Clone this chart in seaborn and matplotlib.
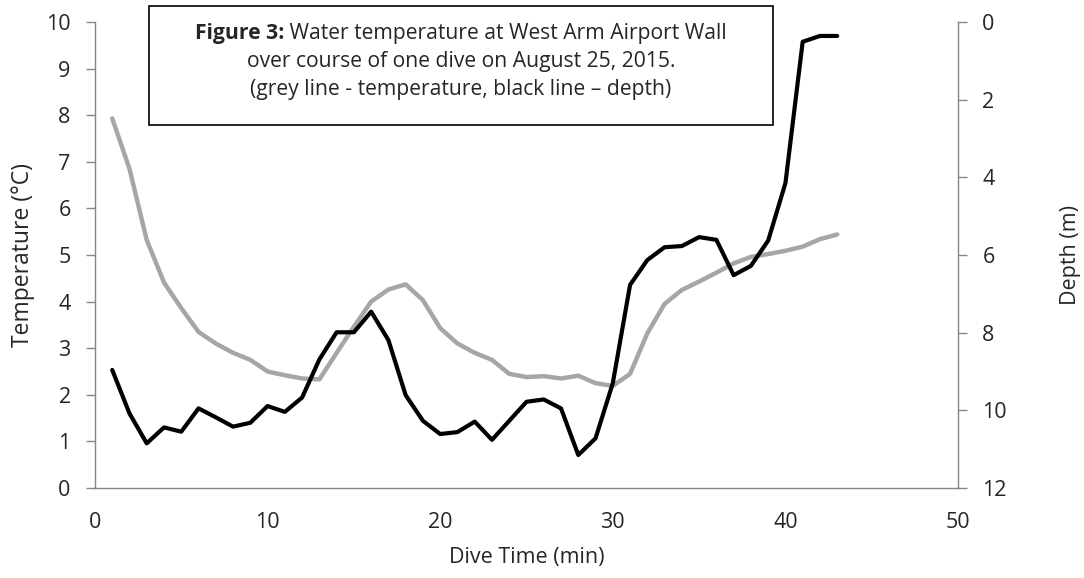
import numpy as np
import pandas as pd
import matplotlib
matplotlib.use("Agg")
import matplotlib.pyplot as plt
import seaborn as sns

# dive time (min), one reading per minute
dive_time = list(range(1, 44))

temperature = [7.93, 6.85, 5.32, 4.41, 3.86, 3.35, 3.10, 2.90, 2.75, 2.50,
               2.42, 2.35, 2.33, 2.90, 3.46, 4.00, 4.26, 4.37, 4.03, 3.43,
               3.10, 2.90, 2.75, 2.45, 2.38, 2.40, 2.35, 2.41, 2.25, 2.19,
               2.45, 3.32, 3.95, 4.25, 4.43, 4.62, 4.82, 4.96, 5.02, 5.09,
               5.18, 5.34, 5.44]

depth = [8.96, 10.08, 10.85, 10.44, 10.55, 9.95, 10.18, 10.42, 10.32, 9.89,
         10.04, 9.67, 8.69, 7.99, 7.99, 7.46, 8.19, 9.61, 10.27, 10.61,
         10.56, 10.29, 10.76, 10.27, 9.78, 9.72, 9.95, 11.15, 10.72, 9.30,
         6.77, 6.13, 5.80, 5.77, 5.54, 5.61, 6.52, 6.28, 5.63, 4.15,
         0.51, 0.36, 0.36]

df = pd.DataFrame({"time": dive_time, "temp": temperature, "depth": depth})

sns.set_style("white")
plt.rcParams["font.family"] = ["Open Sans", "DejaVu Sans"]

axis_grey = "#868686"
fs = 15.5
W, H = 1084, 578

fig = plt.figure(figsize=(10.84, 5.78), dpi=100)
ax = fig.add_axes([0.0876, 0.1557, 0.7962, 0.8063])
ax2 = ax.twinx()

sns.lineplot(data=df, x="time", y="temp", ax=ax, color="#a6a6a6", lw=3.2)
sns.lineplot(data=df, x="time", y="depth", ax=ax2, color="black", lw=3.0)

ax.set_xlim(0, 50)
ax.set_ylim(0, 10)
ax.set_xticks(range(0, 51, 10))
ax.set_yticks(range(0, 11))
ax2.set_ylim(12, 0)
ax2.set_yticks(range(0, 13, 2))

for a in (ax, ax2):
    for s in a.spines.values():
        s.set_color(axis_grey)
        s.set_linewidth(1.0)
    a.spines["top"].set_visible(False)
    a.tick_params(direction="out", length=6.5, width=1.0, color=axis_grey,
                  labelsize=fs, pad=11)
ax.spines["right"].set_visible(False)
ax2.spines["left"].set_visible(False)
ax2.spines["bottom"].set_visible(False)

ax.set_xlabel("Dive Time (min)", fontsize=fs, labelpad=10)
ax.set_ylabel("Temperature (°C)", fontsize=16.5, labelpad=8)
ax2.set_ylabel("Depth (m)", fontsize=fs, labelpad=38)

# caption box
bx0, by0, bx1, by1 = 149 / W, 1 - 125 / H, 773 / W, 1 - 6 / H
fig.patches.append(plt.Rectangle((bx0, by0), bx1 - bx0, by1 - by0,
                                 transform=fig.transFigure, fill=True,
                                 facecolor="white", edgecolor="black", lw=1.2,
                                 zorder=5))
cx = (bx0 + bx1) / 2
cfs = 15.2

# first line: bold lead-in followed by regular text, centred together
renderer = fig.canvas.get_renderer()
t_bold = fig.text(0, 1 - 34 / H, "Figure 3:", ha="left", va="center",
                  fontsize=cfs, fontweight="bold", zorder=6)
t_rest = fig.text(0, 1 - 34 / H, " Water temperature at West Arm Airport Wall",
                  ha="left", va="center", fontsize=cfs, zorder=6)
wb = t_bold.get_window_extent(renderer).width / (W)
wr = t_rest.get_window_extent(renderer).width / (W)
x0 = cx - (wb + wr) / 2
t_bold.set_x(x0)
t_rest.set_x(x0 + wb)

fig.text(cx, 1 - 62 / H, "over course of one dive on August 25, 2015.",
         ha="center", va="center", fontsize=cfs, zorder=6)
fig.text(cx, 1 - 90 / H, "(grey line - temperature, black line \u2013 depth)",
         ha="center", va="center", fontsize=cfs, zorder=6)

plt.savefig("out.png", dpi=100)
